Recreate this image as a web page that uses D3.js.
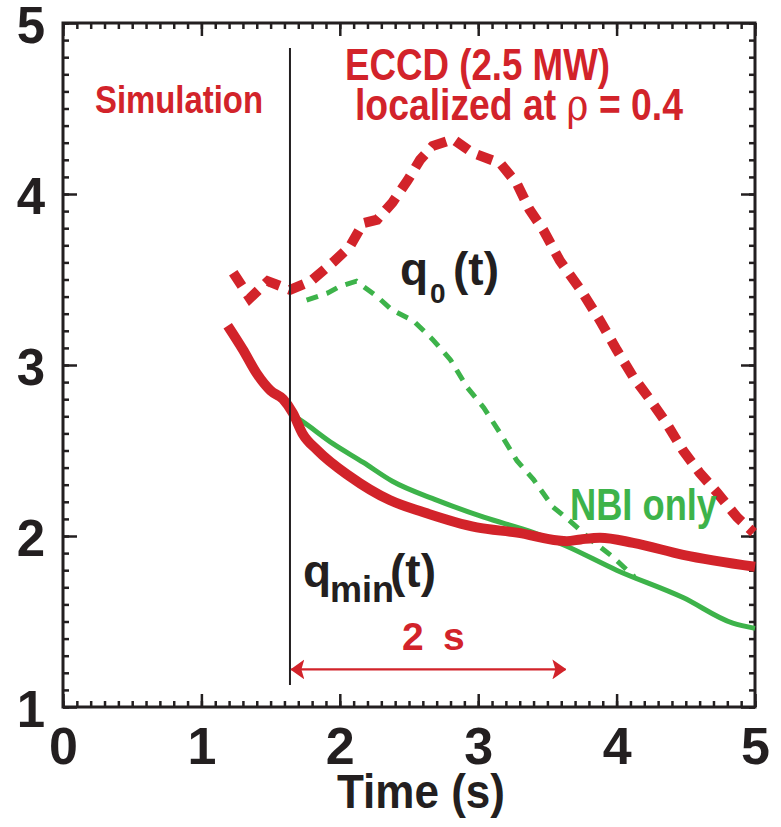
<!DOCTYPE html>
<html>
<head>
<meta charset="utf-8">
<script src="https://cdn.jsdelivr.net/npm/d3@7"></script>
<style>
  body { margin: 0; background: #fff; }
  text { font-family: "Liberation Sans Narrow", "Arial Narrow", "Liberation Sans", sans-serif; font-weight: bold; }
</style>
</head>
<body>
<div id="chart"></div>
<script>
// values, [time (s), q]
const qminEccd = [[1.19,3.23],[1.30,3.09],[1.40,2.95],[1.50,2.85],[1.59,2.80],[1.66,2.72],[1.73,2.60],
  [1.84,2.50],[2.07,2.35],[2.36,2.21],[2.60,2.14],[2.99,2.05],[3.28,2.02],[3.64,1.97],[3.74,1.98],
  [3.88,1.99],[4.12,1.96],[4.48,1.89],[5.0,1.82]];
const qminNbi = [[1.65,2.71],[1.71,2.68],[1.95,2.54],[2.17,2.43],[2.38,2.32],[2.70,2.21],[3.04,2.11],
  [3.40,2.02],[3.64,1.94],[4.00,1.80],[4.48,1.64],[4.84,1.49],[5.0,1.46]];
const q0Eccd = [[1.23,3.54],[1.35,3.39],[1.48,3.49],[1.64,3.44],[1.79,3.49],[1.95,3.60],[2.07,3.69],
  [2.17,3.83],[2.27,3.85],[2.38,3.95],[2.49,4.08],[2.58,4.20],[2.67,4.28],[2.82,4.32],[2.96,4.24],
  [3.16,4.18],[3.28,4.06],[3.37,3.91],[3.47,3.79],[3.59,3.61],[3.74,3.44],[3.88,3.26],[4.00,3.09],
  [4.12,2.93],[4.24,2.80],[4.36,2.66],[4.48,2.50],[4.60,2.37],[4.73,2.25],[4.87,2.11],[4.99,2.02]];
const q0Nbi = [[1.76,3.38],[1.91,3.42],[2.00,3.46],[2.12,3.49],[2.27,3.40],[2.38,3.32],[2.53,3.26],
  [2.67,3.15],[2.80,3.03],[2.92,2.87],[3.04,2.75],[3.16,2.60],[3.28,2.44],[3.40,2.33],[3.54,2.17],
  [3.66,2.09],[3.81,1.98],[3.97,1.88],[4.13,1.76]];
const xTicks = [0, 1, 2, 3, 4, 5];
const yTicks = [1, 2, 3, 4, 5];
const markerTime = 1.64;
const spanStart = 1.65, spanEnd = 3.63, spanQ = 1.22;

const red = "#d2232a", green = "#3db34a", ink = "#231f20";
const W = 781, H = 827;

const svg = d3.select("#chart").append("svg")
    .attr("width", W).attr("height", H);

const x = d3.scaleLinear().domain([0, 5]).range([63, 755]);
const y = d3.scaleLinear().domain([1, 5]).range([707, 23]);
const minor = d3.range(0, 5.001, 0.1).map(d => +d.toFixed(1));
const minorY = d3.range(1, 5.001, 0.1).map(d => +d.toFixed(1));

// ticks on all four sides, pointing inward
function styleAxis(g) {
  g.select(".domain").remove();
  g.selectAll("line").attr("stroke", ink).attr("stroke-width", 2.5);
}
svg.append("g").attr("transform", "translate(0,707)")
  .call(d3.axisBottom(x).tickValues(minor).tickSize(-6).tickFormat(""))
  .call(styleAxis);
svg.append("g").attr("transform", "translate(0,707)")
  .call(d3.axisBottom(x).tickValues(xTicks).tickSize(-13).tickPadding(20).tickFormat(d3.format("d")))
  .call(styleAxis)
  .selectAll("text").attr("font-size", 52).attr("fill", ink)
  .style("font-family", '"Liberation Sans Narrow","Arial Narrow","Liberation Sans",sans-serif').style("font-weight", "bold");
svg.append("g").attr("transform", "translate(0,23)")
  .call(d3.axisTop(x).tickValues(minor).tickSize(-6).tickFormat(""))
  .call(styleAxis);
svg.append("g").attr("transform", "translate(0,23)")
  .call(d3.axisTop(x).tickValues(xTicks).tickSize(-13).tickFormat(""))
  .call(styleAxis);
svg.append("g").attr("transform", "translate(63,0)")
  .call(d3.axisLeft(y).tickValues(minorY).tickSize(-6).tickFormat(""))
  .call(styleAxis);
svg.append("g").attr("transform", "translate(63,0)")
  .call(d3.axisLeft(y).tickValues(yTicks).tickSize(-14).tickPadding(18).tickFormat(d3.format("d")))
  .call(styleAxis)
  .selectAll("text").attr("font-size", 51).attr("fill", ink).attr("dy", "0.38em")
  .style("font-family", '"Liberation Sans Narrow","Arial Narrow","Liberation Sans",sans-serif').style("font-weight", "bold");
svg.append("g").attr("transform", "translate(755,0)")
  .call(d3.axisRight(y).tickValues(minorY).tickSize(-6).tickFormat(""))
  .call(styleAxis);
svg.append("g").attr("transform", "translate(755,0)")
  .call(d3.axisRight(y).tickValues(yTicks).tickSize(-14).tickFormat(""))
  .call(styleAxis);

svg.append("rect")
  .attr("x", x(0)).attr("y", y(5))
  .attr("width", x(5) - x(0)).attr("height", y(1) - y(5))
  .attr("fill", "none").attr("stroke", ink).attr("stroke-width", 3);

// curves
const line = d3.line().x(d => x(d[0])).y(d => y(d[1])).curve(d3.curveMonotoneX);
const lineDash = d3.line().x(d => x(d[0])).y(d => y(d[1])).curve(d3.curveLinear);

svg.append("path").datum(q0Nbi).attr("d", lineDash)
  .attr("fill", "none").attr("stroke", green).attr("stroke-width", 5)
  .attr("stroke-dasharray", "12,9");
svg.append("path").datum(qminNbi).attr("d", line)
  .attr("fill", "none").attr("stroke", green).attr("stroke-width", 5);
svg.append("path").datum(q0Eccd).attr("d", lineDash)
  .attr("fill", "none").attr("stroke", red).attr("stroke-width", 10)
  .attr("stroke-dasharray", "16,10");
svg.append("path").datum(qminEccd).attr("d", line)
  .attr("fill", "none").attr("stroke", red).attr("stroke-width", 10)
  .attr("stroke-linecap", "butt");

// vertical marker at ECCD switch-on
svg.append("line")
  .attr("x1", x(markerTime)).attr("x2", x(markerTime))
  .attr("y1", 48).attr("y2", 685)
  .attr("stroke", ink).attr("stroke-width", 2);

// 2 s arrow
const defs = svg.append("defs");
defs.append("marker").attr("id", "head")
  .attr("viewBox", "0 0 14 20").attr("refX", 13).attr("refY", 10)
  .attr("markerWidth", 14).attr("markerHeight", 20)
  .attr("markerUnits", "userSpaceOnUse").attr("orient", "auto-start-reverse")
  .append("path").attr("d", "M0,0 L14,10 L0,20 L3,10 Z").attr("fill", red);
svg.append("line")
  .attr("x1", x(spanStart)).attr("x2", x(spanEnd))
  .attr("y1", y(spanQ)).attr("y2", y(spanQ))
  .attr("stroke", red).attr("stroke-width", 2.2)
  .attr("marker-start", "url(#head)").attr("marker-end", "url(#head)");

// annotations
function label(txt, px, py, size, fill, len, anchor) {
  const t = svg.append("text").attr("x", px).attr("y", py)
    .attr("font-size", size).attr("fill", fill).text(txt);
  if (anchor) t.attr("text-anchor", anchor);
  if (len) t.attr("textLength", len).attr("lengthAdjust", "spacingAndGlyphs");
  return t;
}
label("Simulation", 95, 113, 39, red, 168);
label("ECCD (2.5 MW)", 345, 80, 44, red, 265);
const loc = svg.append("text").attr("x", 355).attr("y", 120).attr("font-size", 44).attr("fill", red)
  .attr("textLength", 328).attr("lengthAdjust", "spacingAndGlyphs");
loc.append("tspan").text("localized at ");
loc.append("tspan").style("font-weight", "normal").style("font-family", '"DejaVu Serif", serif').text("ρ");
loc.append("tspan").text(" = 0.4");

label("NBI only", 570, 520, 44, green, 147);

const q0 = svg.append("text").attr("fill", ink);
q0.append("tspan").attr("x", 400).attr("y", 285).attr("font-size", 46).text("q");
q0.append("tspan").attr("x", 430).attr("y", 303).attr("font-size", 28).text("0");
q0.append("tspan").attr("x", 453).attr("y", 285).attr("font-size", 46).text("(t)");

const qm = svg.append("text").attr("fill", ink);
qm.append("tspan").attr("x", 303).attr("y", 587).attr("font-size", 46).text("q");
qm.append("tspan").attr("x", 330).attr("y", 602).attr("font-size", 36).text("min");
qm.append("tspan").attr("x", 390).attr("y", 587).attr("font-size", 46).text("(t)");

const two = svg.append("text").attr("fill", red).attr("font-size", 39);
two.append("tspan").attr("x", 402).attr("y", 650).text("2");
two.append("tspan").attr("x", 443).attr("y", 650).text("s");

label("Time (s)", 337, 808, 48, ink, 168);
</script>
</body>
</html>
